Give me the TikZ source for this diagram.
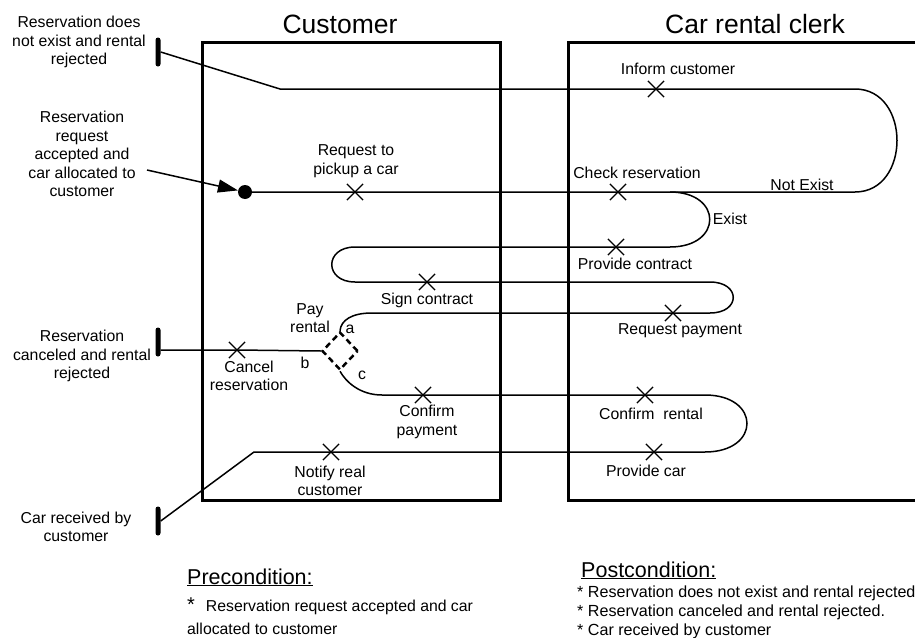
\documentclass[tikz,border=0pt]{standalone}
\usepackage{fontspec}
\setmainfont{Liberation Sans}
\usetikzlibrary{shapes.misc,shapes.geometric,arrows.meta}
\tikzstyle{resp}=[cross out, draw, minimum size=15pt, inner sep=0pt, line width=1.2pt]
\tikzstyle{lbl}=[font=\fontsize{15.8}{18.5}\selectfont, align=center, inner sep=0pt]
\tikzstyle{title}=[font=\fontsize{26.5}{30}\selectfont, inner sep=0pt]
\tikzstyle{comp}=[line width=3pt]
\tikzstyle{ucm}=[line width=1.5pt]
\tikzstyle{endbar}=[fill, rounded corners=2.5pt, minimum width=5pt, minimum height=29pt, inner sep=0pt]
\tikzstyle{note}=[font=\fontsize{16.1}{19}\selectfont, anchor=base west, inner sep=0pt]

\begin{document}
\begin{tikzpicture}[x=1pt, y=-1pt]
    \clip (0,0) rectangle (915,637);
% Components
    \draw[comp] (202,42) rectangle (500,500);
    \draw[comp] (568,42) rectangle (940,500);
    \node[title] (custtitle) at (340,24) {Customer};
    \node[title] (clerktitle) at (755,24) {Car rental clerk};
% Start point and end bars
    \node[circle, fill, minimum size=14pt, inner sep=0pt] (start) at (245,192) {};
    \node[endbar] (end1) at (158,52) {};
    \node[endbar] (end2) at (158,342) {};
    \node[endbar] (end3) at (158,521) {};
    \coordinate (arrstart) at (147,170);
    \coordinate (fork) at (670,192);
% Responsibilities
    \node[resp] (req) at (355,192) {};
    \node[resp] (chk) at (618,192) {};
    \node[resp] (inf) at (656,89) {};
    \node[resp] (prov) at (616,247) {};
    \node[resp] (sign) at (427,282) {};
    \node[resp] (reqpay) at (673,313) {};
    \node[resp] (cancel) at (237,350) {};
    \node[resp] (confpay) at (423,395) {};
    \node[resp] (confrent) at (645,395) {};
    \node[resp] (provcar) at (654,452) {};
    \node[resp] (notify) at (331,452) {};
% Stub
    \node[diamond, draw, line width=2.5pt, dash pattern=on 6pt off 4pt, minimum width=36pt, minimum height=38pt, inner sep=0pt] (pay) at (340,351) {};
% Paths
    \draw[ucm] (start) -- (req.center) -- (chk.center) -- (855,192)
        .. controls (911,192) and (911,89) .. (855,89) -- (inf.center) -- (280,89) -- (end1.east);
    \draw[ucm] (fork) .. controls (723,192) and (723,247) .. (670,247) -- (prov.center) -- (355,247)
        .. controls (324,247) and (324,282) .. (355,282) -- (sign.center) -- (710,282)
        .. controls (741,282) and (741,313) .. (710,313) -- (reqpay.center) -- (372,313)
        .. controls (352,313) and (341,320) .. (pay.north);
    \draw[ucm] (pay.west) -- (cancel.center) -- (end2.east |- cancel.center);
    \draw[ucm] (pay.south) .. controls (346,382) and (360,395) .. (382,395) -- (confpay.center)
        -- (confrent.center) -- (705,395)
        .. controls (761,395) and (761,452) .. (705,452) -- (provcar.center) -- (notify.center)
        -- (254,452) -- (end3.east);
    \draw[ucm, -{Triangle[length=20pt, width=13pt]}] (arrstart) -- (start);
% Labels
    \node[lbl] (endlbl1) at (79,42) {Reservation does\\not exist and rental\\rejected};
    \node[lbl] (startlbl) at (82,154) {Reservation\\request\\accepted and\\car allocated to\\customer};
    \node[lbl] (endlbl2) at (82,356) {Reservation\\canceled and rental\\rejected};
    \node[lbl] (endlbl3) at (76,527) {Car received by\\customer};
    \node[lbl] (reqlbl) at (356,161) {Request to\\pickup a car};
    \node[lbl] (inflbl) at (678,69) {Inform customer};
    \node[lbl] (chklbl) at (637,173) {Check reservation};
    \node[lbl] (notexist) at (802,185) {Not Exist};
    \node[lbl] (exist) at (730,219) {Exist};
    \node[lbl] (provlbl) at (635,264) {Provide contract};
    \node[lbl] (signlbl) at (427,300) {Sign contract};
    \node[lbl] (reqpaylbl) at (680,331) {Request payment};
    \node[lbl] (paylbl) at (310,318) {Pay\\rental};
    \node[lbl] (lbla) at (350,329) {a};
    \node[lbl] (lblb) at (305,363) {b};
    \node[lbl] (lblc) at (362,375) {c};
    \node[lbl] (cancellbl) at (249,376) {Cancel\\reservation};
    \node[lbl] (confpaylbl) at (427,422) {Confirm\\payment};
    \node[lbl] (confrentlbl) at (651,414) {Confirm\ \ rental};
    \node[lbl] (provcarlbl) at (646,471) {Provide car};
    \node[lbl] (notifylbl) at (330,481) {Notify real\\customer};
% Conditions
    \node[note, font=\fontsize{21.5}{25}\selectfont] (pre) at (187,584) {\underline{Precondition:}};
    \node[note, font=\fontsize{15.8}{19}\selectfont] (pre1) at (187,611) {{\fontsize{20}{20}\selectfont*}\hspace{11pt}Reservation request accepted and car};
    \node[note, font=\fontsize{15.8}{19}\selectfont] (pre2) at (187,634) {allocated to customer};
    \node[note, font=\fontsize{21.5}{25}\selectfont] (post) at (581,577) {\underline{Postcondition:}};
    \node[note] (post1) at (577,597) {* Reservation does not exist and rental rejected};
    \node[note] (post2) at (577,616) {* Reservation canceled and rental rejected.};
    \node[note] (post3) at (577,635) {* Car received by customer};
\end{tikzpicture}
\end{document}
